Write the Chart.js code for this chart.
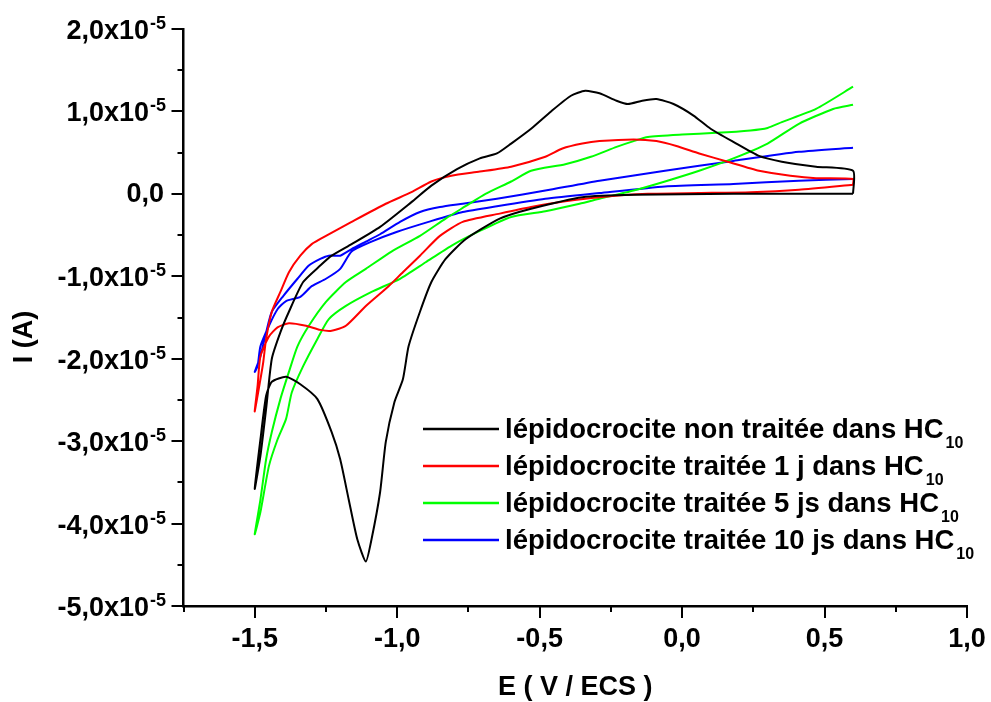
<!DOCTYPE html>
<html>
<head>
<meta charset="utf-8">
<title>Voltammogrammes lépidocrocite</title>
<script src="https://cdn.jsdelivr.net/npm/chart.js@4.4.0/dist/chart.umd.min.js"></script>
<style>
html, body { margin: 0; padding: 0; background: #fff; }
</style>
</head>
<body>
<canvas id="mycanvas" width="991" height="702"></canvas>
<script>
// E in V/ECS, I in units of 1e-5 A (each one is a loop)
var blackE = [0.60, 0.18, -0.17, -0.35, -0.53, -0.64, -0.76, -0.83, -0.88, -0.92, -0.96, -0.98, -1.01, -1.04, -1.06, -1.09, -1.11, -1.14, -1.17, -1.20, -1.23, -1.28, -1.34, -1.39, -1.44, -1.46, -1.48, -1.50, -1.48, -1.46, -1.44, -1.41, -1.38, -1.33, -1.27, -1.23, -1.16, -1.06, -0.95, -0.88, -0.79, -0.71, -0.65, -0.60, -0.53, -0.46, -0.39, -0.34, -0.29, -0.23, -0.19, -0.14, -0.09, -0.03, 0.04, 0.10, 0.18, 0.27, 0.35, 0.47, 0.60, 0.60];
var blackI = [0.00, 0.00, -0.01, -0.04, -0.18, -0.30, -0.55, -0.79, -1.07, -1.43, -1.85, -2.25, -2.53, -3.01, -3.62, -4.19, -4.46, -4.19, -3.71, -3.22, -2.89, -2.49, -2.31, -2.22, -2.28, -2.45, -2.98, -3.58, -3.18, -2.61, -2.00, -1.68, -1.43, -1.07, -0.87, -0.75, -0.61, -0.40, -0.10, 0.10, 0.30, 0.43, 0.49, 0.61, 0.79, 1.00, 1.19, 1.25, 1.22, 1.13, 1.09, 1.13, 1.15, 1.09, 0.95, 0.79, 0.63, 0.46, 0.39, 0.33, 0.28, 0.00];

var redE = [0.60, 0.41, 0.24, 0.06, -0.12, -0.29, -0.41, -0.53, -0.64, -0.77, -0.85, -0.92, -0.98, -1.03, -1.11, -1.18, -1.23, -1.27, -1.32, -1.38, -1.42, -1.45, -1.48, -1.49, -1.50, -1.48, -1.47, -1.46, -1.44, -1.41, -1.38, -1.34, -1.30, -1.25, -1.16, -1.04, -0.95, -0.88, -0.81, -0.71, -0.60, -0.48, -0.42, -0.35, -0.29, -0.17, -0.09, -0.02, 0.06, 0.16, 0.27, 0.38, 0.47, 0.60, 0.60];
var redI = [0.11, 0.05, 0.02, 0.01, 0.00, -0.04, -0.09, -0.16, -0.24, -0.34, -0.51, -0.75, -0.95, -1.12, -1.36, -1.60, -1.66, -1.65, -1.60, -1.57, -1.62, -1.73, -1.97, -2.33, -2.64, -2.25, -2.04, -1.76, -1.43, -1.19, -0.95, -0.75, -0.61, -0.51, -0.34, -0.12, 0.02, 0.15, 0.22, 0.27, 0.33, 0.45, 0.55, 0.61, 0.64, 0.66, 0.64, 0.58, 0.49, 0.39, 0.28, 0.22, 0.19, 0.18, 0.11];

var greenE = [0.60, 0.47, 0.35, 0.30, 0.24, 0.12, 0.00, -0.12, -0.17, -0.23, -0.32, -0.41, -0.53, -0.60, -0.69, -0.76, -0.83, -0.92, -1.02, -1.11, -1.18, -1.25, -1.31, -1.35, -1.38, -1.41, -1.44, -1.46, -1.48, -1.50, -1.48, -1.45, -1.42, -1.39, -1.37, -1.33, -1.28, -1.24, -1.18, -1.09, -0.99, -0.90, -0.81, -0.71, -0.60, -0.48, -0.36, -0.29, -0.17, -0.06, 0.06, 0.18, 0.30, 0.41, 0.53, 0.60];
var greenI = [1.30, 1.03, 0.87, 0.80, 0.77, 0.74, 0.72, 0.69, 0.64, 0.57, 0.45, 0.36, 0.28, 0.15, 0.00, -0.15, -0.30, -0.51, -0.70, -0.91, -1.07, -1.31, -1.60, -1.85, -2.16, -2.49, -2.89, -3.22, -3.71, -4.13, -3.86, -3.30, -2.98, -2.73, -2.41, -2.09, -1.76, -1.52, -1.36, -1.19, -1.03, -0.83, -0.63, -0.45, -0.28, -0.21, -0.12, -0.06, 0.04, 0.15, 0.28, 0.43, 0.61, 0.85, 1.03, 1.08];

var blueE = [0.60, 0.41, 0.18, -0.06, -0.29, -0.48, -0.65, -0.77, -0.89, -1.00, -1.09, -1.16, -1.20, -1.25, -1.30, -1.34, -1.39, -1.42, -1.45, -1.48, -1.49, -1.50, -1.48, -1.46, -1.44, -1.40, -1.35, -1.31, -1.27, -1.24, -1.20, -1.16, -1.11, -1.06, -0.99, -0.92, -0.85, -0.77, -0.65, -0.48, -0.29, -0.06, 0.18, 0.41, 0.60];
var blueI = [0.18, 0.16, 0.12, 0.09, 0.01, -0.06, -0.15, -0.22, -0.34, -0.46, -0.58, -0.70, -0.91, -1.03, -1.12, -1.25, -1.30, -1.40, -1.60, -1.85, -2.09, -2.16, -1.97, -1.68, -1.43, -1.24, -1.03, -0.87, -0.79, -0.75, -0.75, -0.67, -0.58, -0.49, -0.34, -0.22, -0.16, -0.12, -0.06, 0.04, 0.16, 0.28, 0.40, 0.51, 0.56];

var seriesNames = ['lépidocrocite non traitée dans HC', 'lépidocrocite traitée 1 j dans HC', 'lépidocrocite traitée 5 js dans HC', 'lépidocrocite traitée 10 js dans HC'];
var seriesSub = '10';
var seriesColors = ['#000000', '#ff0000', '#00ff00', '#0000ff'];

var xTicks = [-1.5, -1.0, -0.5, 0.0, 0.5, 1.0];
var yTicks = [2, 1, 0, -1, -2, -3, -4, -5];   // x10^-5 A
var yExp = '-5';
var xTitle = 'E ( V / ECS )';
var yTitle = 'I (A)';

var FONT = '"Liberation Sans", Arial, sans-serif';

function pts(xs, ys) {
    var out = [];
    for (var i = 0; i < xs.length; i++) out.push({x: xs[i], y: ys[i]});
    return out;
}

var allE = [blackE, redE, greenE, blueE];
var allI = [blackI, redI, greenI, blueI];
var datasets = [];
for (var s = 0; s < 4; s++) {
    datasets.push({
        label: seriesNames[s] + seriesSub,
        data: pts(allE[s], allI[s]),
        showLine: true,
        borderColor: seriesColors[s],
        borderWidth: 2,
        pointRadius: 0,
        tension: 0.2,
        fill: false
    });
}

// ticks, labels, titles and legend drawn the Origin way
var decor = {
    id: 'decor',
    afterDraw: function(chart) {
        var ctx = chart.ctx, xs = chart.scales.x, ys = chart.scales.y, a = chart.chartArea;
        ctx.save();
        ctx.strokeStyle = '#000';
        ctx.fillStyle = '#000';
        ctx.lineWidth = 2;
        ctx.lineCap = 'butt';

        // y ticks, major every 1, minor every 0.5
        for (var k = -10; k <= 4; k++) {
            var py = Math.round(ys.getPixelForValue(k / 2));
            var len = (k % 2 === 0) ? 12 : 6;
            ctx.beginPath();
            ctx.moveTo(a.left - len, py);
            ctx.lineTo(a.left, py);
            ctx.stroke();
        }
        // x ticks, major every 0.5, minor every 0.25
        for (var j = -7; j <= 4; j++) {
            var px = Math.round(xs.getPixelForValue(j / 4));
            var l2 = (j % 2 === 0) ? 12 : 6;
            ctx.beginPath();
            ctx.moveTo(px, a.bottom);
            ctx.lineTo(px, a.bottom + l2);
            ctx.stroke();
        }

        // x tick labels
        ctx.font = 'bold 27px ' + FONT;
        ctx.textAlign = 'center';
        ctx.textBaseline = 'alphabetic';
        xTicks.forEach(function(v) {
            ctx.fillText(v.toFixed(1).replace('.', ','), xs.getPixelForValue(v), a.bottom + 41);
        });

        // y tick labels with superscript exponent
        ctx.textAlign = 'right';
        yTicks.forEach(function(v) {
            var py = ys.getPixelForValue(v);
            var txt = v.toFixed(1).replace('.', ',');
            if (v === 0) {
                ctx.font = 'bold 27px ' + FONT;
                ctx.fillText(txt, 164, py + 8);
            } else {
                ctx.font = 'bold 18px ' + FONT;
                var w = ctx.measureText(yExp).width;
                ctx.fillText(yExp, 166, py);
                ctx.font = 'bold 27px ' + FONT;
                ctx.fillText(txt + 'x10', 166 - w - 1, py + 10);
            }
        });

        // axis titles
        ctx.font = 'bold 27px ' + FONT;
        ctx.textAlign = 'center';
        ctx.textBaseline = 'middle';
        ctx.fillText(xTitle, (a.left + a.right) / 2, 688);
        ctx.save();
        ctx.translate(25, 337);
        ctx.rotate(-Math.PI / 2);
        ctx.fillText(yTitle, 0, 0);
        ctx.restore();

        // legend
        ctx.textAlign = 'left';
        ctx.textBaseline = 'alphabetic';
        for (var i = 0; i < seriesNames.length; i++) {
            var ly = 429 + i * 37;
            ctx.strokeStyle = seriesColors[i];
            ctx.lineWidth = 2.5;
            ctx.beginPath();
            ctx.moveTo(423, ly);
            ctx.lineTo(499, ly);
            ctx.stroke();
            ctx.font = 'bold 27.5px ' + FONT;
            ctx.fillText(seriesNames[i], 505, ly + 8.5);
            var tw = ctx.measureText(seriesNames[i]).width;
            ctx.font = 'bold 16px ' + FONT;
            ctx.fillText(seriesSub, 505 + tw + 2, ly + 18.5);
        }
        ctx.restore();
    }
};

var ctx = document.getElementById('mycanvas');
var cvChart = new Chart(ctx, {
    type: 'scatter',
    data: { datasets: datasets },
    options: {
        responsive: false,
        animation: false,
        layout: { padding: { left: 0, right: 24, top: 29, bottom: 0 } },
        plugins: { legend: { display: false }, tooltip: { enabled: false } },
        scales: {
            x: {
                type: 'linear', min: -1.75, max: 1.0,
                afterFit: function(sc) { sc.height = 96; },
                ticks: { display: false },
                grid: { display: false },
                border: { display: true, color: '#000', width: 2.5 }
            },
            y: {
                type: 'linear', min: -5, max: 2,
                afterFit: function(sc) { sc.width = 183.5; },
                ticks: { display: false },
                grid: { display: false },
                border: { display: true, color: '#000', width: 2.5 }
            }
        }
    },
    plugins: [decor]
});
</script>
</body>
</html>
